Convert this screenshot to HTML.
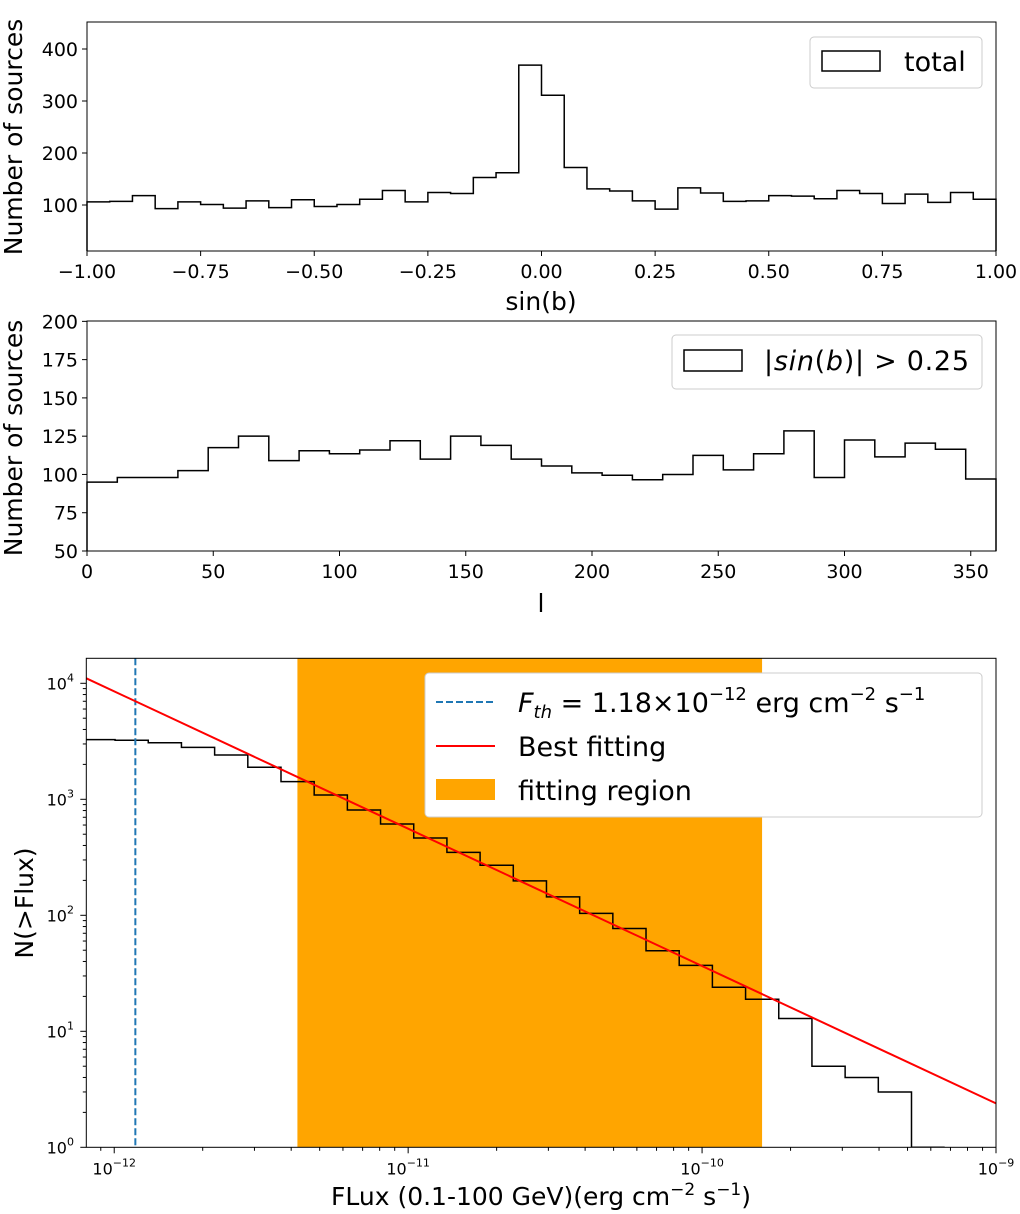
<!DOCTYPE html>
<html><head><meta charset="utf-8"><style>
html,body{margin:0;padding:0;background:#fff}
svg{display:block;font-family:"DejaVu Sans","Liberation Sans",sans-serif}
</style></head><body>
<svg id="chart" width="1020" height="1214" viewBox="0 0 1020 1214" xmlns="http://www.w3.org/2000/svg"></svg>
<script>
// Panel 1: sin(b) histogram
const sinbCounts=[106,107,118,93,106,101,94,108,95,110,97,101,111,128,106,124,122,153,162,369,311,172,131,127,108,92,133,123,107,108,118,117,112,128,122,103,121,105,124,111];
const sinbTicks=[-1,-0.75,-0.5,-0.25,0,0.25,0.5,0.75,1];
const sinbYTicks=[100,200,300,400];
// Panel 2: l histogram
const lCounts=[95,98,98,102.5,117.5,125,109,115.5,113.5,116,122,110,125,119,110,105.5,101,99.5,96.5,100,112.5,103,113.5,128.5,98,122.5,111.5,120.5,116.5,97];
const lTicks=[0,50,100,150,200,250,300,350];
const lYTicks=[50,75,100,125,150,175,200];
// Panel 3: cumulative flux distribution
const fluxEdgeStart=-12.110, fluxBinWidth=0.1129;
const fluxCounts=[3266,3228,3076,2805,2408,1888,1419,1089,809,612,464,349,270,198,144,104,77,49.5,37,24,18.9,12.9,5,4,3,1];
const fluxThreshold=1.18e-12;
const fitRegion=[4.2e-12,1.6e-10];
const fitLogAmp=4.043, fitLogX0=-12.095, fitSlope=-1.184;
const fluxXTicks=[-12,-11,-10,-9];
const fluxYTicks=[0,1,2,3,4];

const NS='http://www.w3.org/2000/svg';
const svg=document.getElementById('chart');
function el(tag,attrs,parent,text){const e=document.createElementNS(NS,tag);for(const k in attrs)e.setAttribute(k,attrs[k]);if(text!==undefined)e.textContent=text;(parent||svg).appendChild(e);return e;}
function fmtMinus(v,d){let s=v.toFixed(d);return s.replace('-','\u2212');}

function histPath(edgesX,vals,yf,baseY){
  let d='M'+edgesX[0]+','+baseY;
  for(let i=0;i<vals.length;i++){d+=' L'+edgesX[i]+','+yf(vals[i])+' L'+edgesX[i+1]+','+yf(vals[i]);}
  d+=' L'+edgesX[vals.length]+','+baseY;return d;
}

// ---------- Panel 1 ----------
(function(){
  const L=87,R=996,T=22,B=251;
  const x=v=>L+(v+1)/2*(R-L);
  const y=v=>257-v*0.52;
  const g=el('g',{},svg);
  
  const edges=sinbCounts.map((_,i)=>x(-1+i*0.05));edges.push(x(1));
  const p=el('path',{d:histPath(edges,sinbCounts,y,B),fill:'none',stroke:'#000','stroke-width':1.5},g);
  
  const fr=el('rect',{x:L,y:T,width:R-L,height:B-T,fill:'none',stroke:'#000','stroke-width':1},g);
  
  sinbTicks.forEach(t=>{const xx=x(t);el('line',{x1:xx,x2:xx,y1:B,y2:B+5,stroke:'#000'},g);
    const tl=el('text',{x:xx,y:B+27,'text-anchor':'middle','font-size':19},g,fmtMinus(t,2));
    });
  sinbYTicks.forEach(t=>{const yy=y(t);el('line',{x1:L-5,x2:L,y1:yy,y2:yy,stroke:'#000'},g);
    const tl=el('text',{x:L-9,y:yy+7,'text-anchor':'end','font-size':19},g,String(t));
    });
  const xl=el('text',{x:541,y:310,'text-anchor':'middle','font-size':25},g,'sin(b)');
  
  const yl=el('text',{x:0,y:0,'text-anchor':'middle','font-size':25,transform:'translate(22,137) rotate(-90)'},g,'Number of sources');
  
  const lg=el('g',{},g);
  el('rect',{x:810,y:37,width:172,height:51,rx:4,fill:'#fff',stroke:'#ccc'},lg);
  el('rect',{x:822,y:51,width:58,height:20,fill:'none',stroke:'#000','stroke-width':1.5},lg);
  const lt=el('text',{x:904,y:71,'font-size':27},lg,'total');
  
})();

// ---------- Panel 2 ----------
(function(){
  const L=87,R=996,T=321,B=551;
  const x=v=>L+v/360*(R-L);
  const y=v=>B-(v-50)*1.531;
  const g=el('g',{},svg);
  
  const edges=lCounts.map((_,i)=>x(i*12));edges.push(x(360));
  const p=el('path',{d:histPath(edges,lCounts,y,B),fill:'none',stroke:'#000','stroke-width':1.5},g);
  
  const fr=el('rect',{x:L,y:T,width:R-L,height:B-T,fill:'none',stroke:'#000','stroke-width':1},g);
  
  lTicks.forEach(t=>{const xx=x(t);el('line',{x1:xx,x2:xx,y1:B,y2:B+5,stroke:'#000'},g);
    const tl=el('text',{x:xx,y:B+27,'text-anchor':'middle','font-size':19},g,String(t));
    });
  lYTicks.forEach(t=>{const yy=y(t);el('line',{x1:L-5,x2:L,y1:yy,y2:yy,stroke:'#000'},g);
    const tl=el('text',{x:L-9,y:yy+7,'text-anchor':'end','font-size':19},g,String(t));
    });
  const xl=el('text',{x:541,y:612,'text-anchor':'middle','font-size':25},g,'l');
  
  const yl=el('text',{x:0,y:0,'text-anchor':'middle','font-size':25,transform:'translate(22,438) rotate(-90)'},g,'Number of sources');
  
  const lg=el('g',{},g);
  el('rect',{x:672,y:335,width:310,height:54,rx:4,fill:'#fff',stroke:'#ccc'},lg);
  el('rect',{x:684,y:350,width:58,height:21,fill:'none',stroke:'#000','stroke-width':1.5},lg);
  const lt=el('text',{x:764,y:370,'font-size':27,textLength:205},lg);
  lt.innerHTML='|<tspan font-style="italic">sin</tspan>(<tspan font-style="italic">b</tspan>)| &gt; 0.25';
  
})();

// ---------- Panel 3 ----------
(function(){
  const L=86.3,R=996,T=658.3,B=1147.3;
  const lx0=-12.095,lx1=-9;
  const xl=lv=>L+(lv-lx0)/(lx1-lx0)*(R-L);
  const x=v=>xl(Math.log10(v));
  const y=v=>B-Math.log10(v)*116;
  const g=el('g',{},svg);
  
  const cpath=el('clipPath',{id:'c3'},g);
  el('rect',{x:L,y:T,width:R-L,height:B-T},cpath);
  const reg=el('rect',{x:x(fitRegion[0]),y:T,width:x(fitRegion[1])-x(fitRegion[0]),height:B-T,fill:'#ffa500'},g);
  
  const edges=fluxCounts.map((_,i)=>xl(fluxEdgeStart+i*fluxBinWidth));edges.push(xl(fluxEdgeStart+fluxCounts.length*fluxBinWidth));
  const p=el('path',{d:histPath(edges,fluxCounts,y,B),fill:'none',stroke:'#000','stroke-width':1.5,'clip-path':'url(#c3)'},g);
  
  const th=el('line',{x1:x(fluxThreshold),x2:x(fluxThreshold),y1:T,y2:B,stroke:'#1f77b4','stroke-width':2,'stroke-dasharray':'7,3'},g);
  
  const fy=lv=>B-(fitLogAmp+fitSlope*(lv-fitLogX0))*116;
  const fl=el('line',{x1:xl(lx0),y1:fy(lx0),x2:xl(lx1),y2:fy(lx1),stroke:'#ff0000','stroke-width':2},g);
  
  const fr=el('rect',{x:L,y:T,width:R-L,height:B-T,fill:'none',stroke:'#000','stroke-width':1},g);
  
  for(let d=-13;d<=-9;d++){for(let m=1;m<10;m++){const lv=d+Math.log10(m);if(lv<lx0-1e-6||lv>lx1+1e-6)continue;const xx=xl(lv);
    el('line',{x1:xx,x2:xx,y1:B,y2:B+(m===1?6:3.5),stroke:'#000'},g);}}
  fluxXTicks.forEach(t=>{const tl=el('text',{x:xl(t),y:B+27,'text-anchor':'middle','font-size':16},g);
    tl.innerHTML='10<tspan dy="-8" font-size="11">\u2212'+(-t)+'</tspan>';
    });
  for(let d=0;d<=4;d++){for(let m=1;m<10;m++){const lv=d+Math.log10(m);const yy=B-lv*116;if(yy<T)continue;
    el('line',{x1:L-(m===1?6:3.5),x2:L,y1:yy,y2:yy,stroke:'#000'},g);}}
  fluxYTicks.forEach(t=>{const tl=el('text',{x:L-26,y:B-t*116+6,'text-anchor':'middle','font-size':16},g);
    tl.innerHTML='10<tspan dy="-8" font-size="11">'+t+'</tspan>';
    });
  const xt=el('text',{x:541,y:1205,'text-anchor':'middle','font-size':25},g);
  xt.innerHTML='FLux (0.1-100 GeV)(erg cm<tspan dy="-10" font-size="17">\u22122</tspan><tspan dy="10"> s</tspan><tspan dy="-10" font-size="17">\u22121</tspan><tspan dy="10">)</tspan>';
  
  const yt=el('text',{x:0,y:0,'text-anchor':'middle','font-size':25,transform:'translate(33,903) rotate(-90)'},g,'N(>Flux)');
  
  const lg=el('g',{},g);
  el('rect',{x:425,y:673,width:557,height:144,rx:4,fill:'#fff',stroke:'#ccc'},lg);
  el('line',{x1:436,x2:495,y1:702,y2:702,stroke:'#1f77b4','stroke-width':2,'stroke-dasharray':'7,3'},lg);
  el('line',{x1:436,x2:495,y1:746,y2:746,stroke:'#ff0000','stroke-width':2},lg);
  el('rect',{x:436,y:779,width:59,height:21,fill:'#ffa500'},lg);
  const t1=el('text',{x:518,y:712,'font-size':27},lg);
  t1.innerHTML='<tspan font-style="italic">F</tspan><tspan font-style="italic" font-size="18" dy="6">th</tspan><tspan dy="-6"> = 1.18×10</tspan><tspan dy="-12" font-size="18">\u221212</tspan><tspan dy="12"> erg cm</tspan><tspan dy="-12" font-size="18">\u22122</tspan><tspan dy="12"> s</tspan><tspan dy="-12" font-size="18">\u22121</tspan>';
  
  const t2=el('text',{x:518,y:756,'font-size':27},lg,'Best fitting');
  
  const t3=el('text',{x:518,y:800,'font-size':27},lg,'fitting region');
  
})();
</script>
</body></html>
